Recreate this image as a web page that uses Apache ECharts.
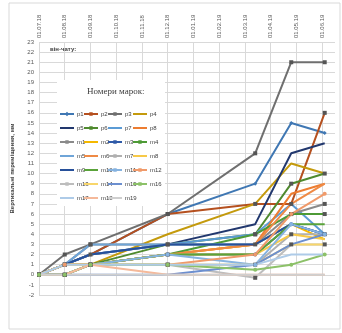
<!DOCTYPE html>
<html>
<head>
<meta charset="utf-8">
<script src="https://cdn.jsdelivr.net/npm/echarts@6/dist/echarts.min.js"></script>
<style>
  html, body { margin: 0; padding: 0; background: #fff; }
  #chart { width: 342px; height: 333px; }
</style>
</head>
<body>
<div id="chart"></div>
<script>
// month ticks of the top axis
const monthLabels = ['01.07.18', '01.08.18', '01.09.18', '01.10.18', '01.11.18', '01.12.18',
                     '01.01.19', '01.02.19', '01.03.19', '01.04.19', '01.05.19', '01.06.19'];
// survey dates, in months from 01.07.18
const surveyMonths = [0, 1, 2, 5, 8.4, 9.8, 11.1];

// vertical displacement of each mark, mm
const p1 = [0, 1, 2, 6, 9, 15, 14];
const p2 = [0, 1, 2, 6, 7, 7, 16];
const p3 = [0, 2, 3, 6, 12, 21, 21];
const p4 = [0, 1, 1, 4, 7, 11, 10];
const p5 = [0, 1, 2, 3, 5, 12, 13];
const p6 = [0, 1, 1, 3, 4, 9, 10];
const p7 = [0, 1, 2, 3, 4, 7, 4];
const p8 = [0, 1, 1, 2, 3, 8, 9];
const m1 = [0, 1, 3, 3, 3, 6, 7];
const m2 = [0, 1, 1, 2, 3, 5, 3.5];
const m3 = [0, 0, 1, 2, 2, 5, 4];
const m4 = [0, 0, 1, 2, 4, 6, 6];
const m5 = [0, 1, 3, 3, 3, 5, 4];
const m6 = [0, 1, 1, 2, 3, 7, 9];
const m7 = [0, 0, 1, 1, 1, 4, 4];
const m8 = [0, 1, 1, 2, 2, 4, 3.5];
const m9 = [0, 1, 2, 3, 3, 5, 4];
const m10 = [0, 0, 1, 2, 2, 5, 5];
const m11 = [0, 1, 1, 2, 1, 5, 4];
const m12 = [0, 1, 1, 1, 2, 6, 8];
const m13 = [0, 0, 1, 1, -0.3, 3, 3];
const m14 = [0, 1, 1, 1, 1, 3, 3];
const m15 = [0, 0, 0, 0, 1, 3, 4];
const m16 = [0, 0, 1, 1, 0.5, 1, 2];
const m17 = [0, 1, 1, 1, 1, 2, 2];
const m18 = [0, 0, 1, 0, 0, 0, 0];
const m19 = [0, 0, 0, 0, 0, 0, 0];

const yTicks = { min: -2, max: 23, step: 1 };

let marks = [
    {name: 'p1', data: p1, color: '#3f77b3', symbol: 'diamond'},
    {name: 'p2', data: p2, color: '#b5501f', symbol: 'rect'},
    {name: 'p3', data: p3, color: '#6f6f6f', symbol: 'rect'},
    {name: 'p4', data: p4, color: '#c49a0c', symbol: 'none'},
    {name: 'p5', data: p5, color: '#22386e', symbol: 'none'},
    {name: 'p6', data: p6, color: '#4f8a2e', symbol: 'rect'},
    {name: 'p7', data: p7, color: '#5b9bd5', symbol: 'none'},
    {name: 'p8', data: p8, color: '#ed7d31', symbol: 'none'},
    {name: 'm1', data: m1, color: '#8a8a8a', symbol: 'rect'},
    {name: 'm2', data: m2, color: '#f5b800', symbol: 'none'},
    {name: 'm3', data: m3, color: '#2f5aa8', symbol: 'circle'},
    {name: 'm4', data: m4, color: '#4d9a36', symbol: 'rect'},
    {name: 'm5', data: m5, color: '#6fa5d8', symbol: 'none'},
    {name: 'm6', data: m6, color: '#ef8a45', symbol: 'none'},
    {name: 'm7', data: m7, color: '#b0b0b0', symbol: 'rect'},
    {name: 'm8', data: m8, color: '#f7c948', symbol: 'none'},
    {name: 'm9', data: m9, color: '#27509a', symbol: 'none'},
    {name: 'm10', data: m10, color: '#5aa33a', symbol: 'none'},
    {name: 'm11', data: m11, color: '#86b3e0', symbol: 'circle'},
    {name: 'm12', data: m12, color: '#f09a6a', symbol: 'circle'},
    {name: 'm13', data: m13, color: '#bdbdbd', symbol: 'rect'},
    {name: 'm14', data: m14, color: '#f8d66b', symbol: 'none'},
    {name: 'm15', data: m15, color: '#6c8fcf', symbol: 'none'},
    {name: 'm16', data: m16, color: '#8cc168', symbol: 'circle'},
    {name: 'm17', data: m17, color: '#aecbe8', symbol: 'none'},
    {name: 'm18', data: m18, color: '#f5b99a', symbol: 'none'},
    {name: 'm19', data: m19, color: '#cfcfcf', symbol: 'none'}
];

// legend icons: a short line, with a small marker when the series has one
let bounds = ' M0,0H0.01V0.01H0Z M13.99,7.99H14V8H13.99Z';
let icons = {
    none: 'path://M0,3.1H14V4.9H0Z' + bounds,
    rect: 'path://M0,3.1H14V4.9H0Z M5.3,2.3H8.7V5.7H5.3Z' + bounds,
    circle: 'path://M0,3.1H14V4.9H0Z M5.3,2.3H8.7V5.7H5.3Z' + bounds,
    diamond: 'path://M0,3.1H14V4.9H0Z M7,1.8L9.2,4L7,6.2L4.8,4Z' + bounds
};

let myChart = echarts.init(document.getElementById('chart'));

let seriesData = [];
marks.forEach(function (mark) {
    seriesData.push({
        name: mark.name,
        type: 'line',
        symbol: mark.symbol === 'none' ? 'circle' : mark.symbol,
        showSymbol: mark.symbol !== 'none',
        symbolSize: 4,
        lineStyle: { width: 2, color: mark.color },
        itemStyle: { color: mark.symbol === 'rect' ? '#555' : mark.color },
        data: mark.data.map(function (v, k) { return [surveyMonths[k], v]; })
    });
});

// legend: 4 columns, one legend each
let columns = [
    ['p1', 'p5', 'm1', 'm5', 'm9', 'm13', 'm17'],
    ['p2', 'p6', 'm2', 'm6', 'm10', 'm14', 'm18'],
    ['p3', 'p7', 'm3', 'm7', 'm11', 'm15', 'm19'],
    ['p4', 'p8', 'm4', 'm8', 'm12', 'm16']
];
let colLeft = [60, 84, 108, 133];
let legends = columns.map(function (col, i) {
    return {
        orient: 'vertical',
        left: colLeft[i],
        top: 110,
        padding: 0,
        itemGap: 6,
        itemWidth: 14,
        itemHeight: 8,
        textStyle: { fontSize: 6, color: '#404040', padding: [0, 0, 0, -2] },
        data: col.map(function (name) {
            let mark = marks.find(function (m) { return m.name === name; });
            return {
                name: name,
                icon: icons[mark.symbol],
                itemStyle: { color: mark.color, borderWidth: 0 }
            };
        })
    };
});

let option = {
    animation: false,
    textStyle: { fontFamily: 'Liberation Sans' },
    grid: { left: 39, right: 7, top: 42, bottom: 38 },
    legend: legends,
    graphic: [
        {type: 'rect', shape: {x: 9, y: 3, width: 331, height: 326},
         style: {fill: 'none', stroke: '#d9d9d9', lineWidth: 1}, z: 0},
        {type: 'rect', shape: {x: 57, y: 80, width: 108, height: 126},
         style: {fill: '#fff'}, z: 1},
        {type: 'text', left: 87, top: 87, z: 2,
         style: {text: 'Номери марок:', font: '9px "Liberation Serif"', fill: '#404040'}},
        {type: 'text', left: 50, top: 46, z: 2,
         style: {text: 'він-чату:', font: 'bold 6px "Liberation Sans"', fill: '#404040'}}
    ],
    xAxis: {
        type: 'value',
        position: 'top',
        min: 0,
        max: 11.5,
        interval: 1,
        axisLine: { show: false },
        axisTick: { show: false },
        axisLabel: {
            rotate: 90,
            fontSize: 6,
            color: '#595959',
            margin: 4,
            showMaxLabel: false,
            formatter: function (v) { return monthLabels[v] || ''; }
        },
        splitLine: { show: true, showMaxLine: false, lineStyle: { color: '#d9d9d9', width: 1 } }
    },
    yAxis: {
        type: 'value',
        min: yTicks.min,
        max: yTicks.max,
        interval: yTicks.step,
        name: 'Вертикальні переміщення, мм',
        nameLocation: 'middle',
        nameGap: 24,
        nameTextStyle: { fontSize: 6, fontWeight: 'bold', color: '#404040' },
        axisLine: { show: false },
        axisTick: { show: false },
        axisLabel: { fontSize: 6, color: '#595959', margin: 5 },
        splitLine: { show: true, lineStyle: { color: '#d9d9d9', width: 1 } }
    },
    series: seriesData
};
myChart.setOption(option);
</script>
</body>
</html>
